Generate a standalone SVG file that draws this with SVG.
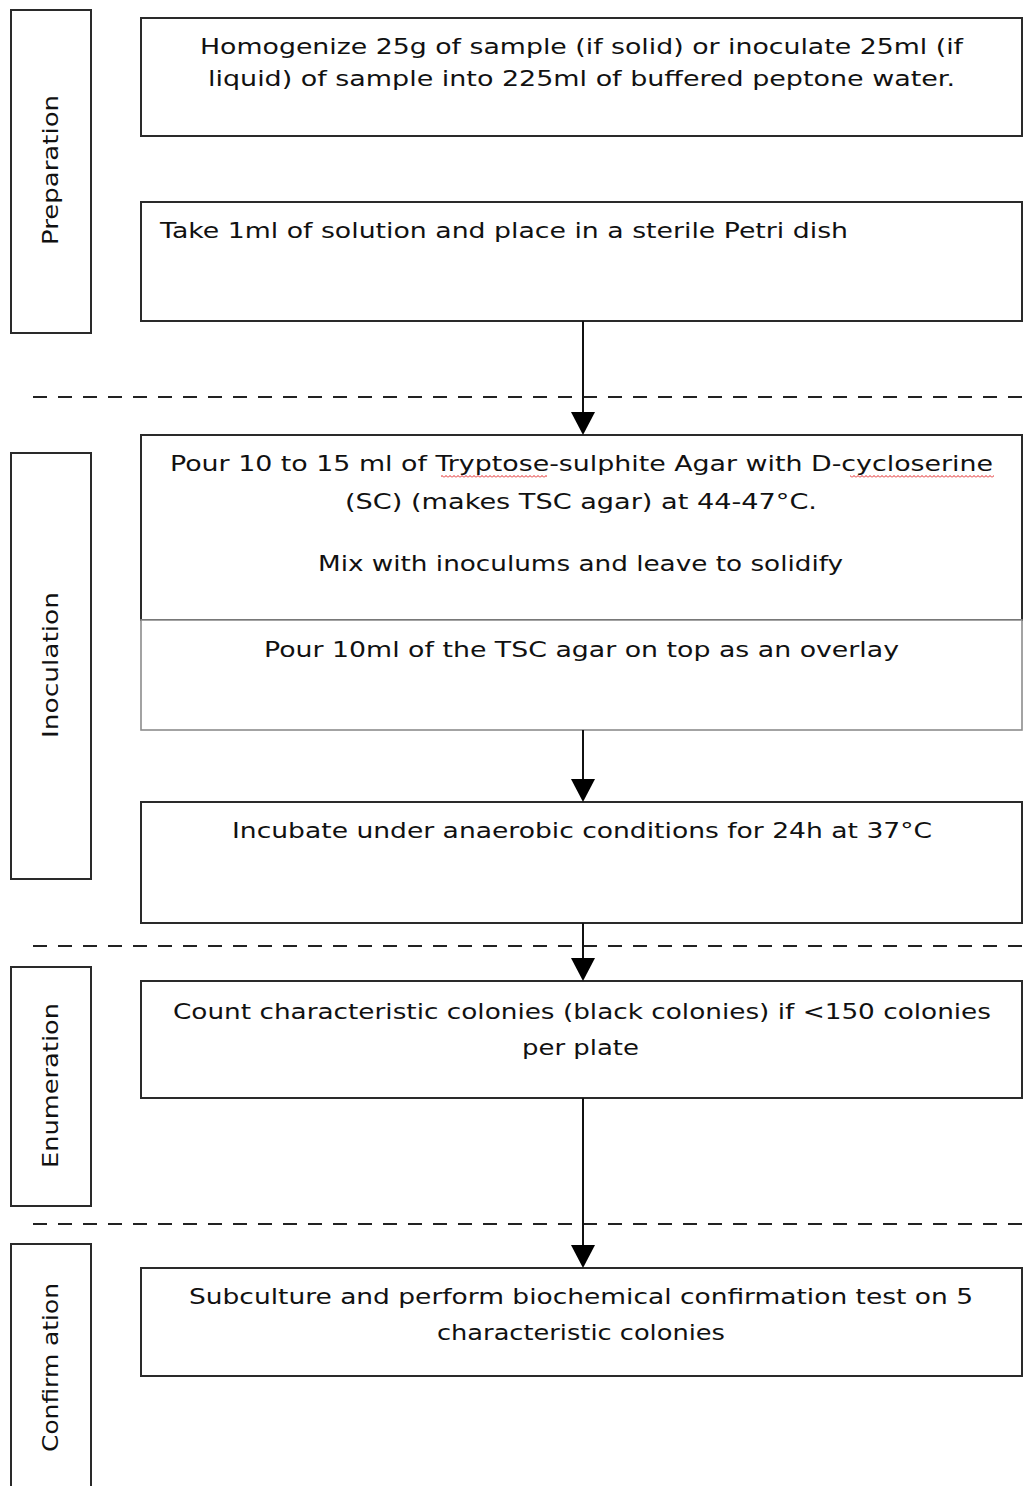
<svg xmlns="http://www.w3.org/2000/svg" width="1024" height="1486" viewBox="0 0 1024 1486">
<style>
.box{fill:#fff;stroke:#2a2a2a;stroke-width:2}
.gbox{fill:#fff;stroke:#8c8c8c;stroke-width:1.6}
.t{font-family:"DejaVu Sans",Verdana,sans-serif;font-size:21px;fill:#111}
.c{text-anchor:middle}
.dash{stroke:#222;stroke-width:2;stroke-dasharray:14 11;fill:none}
.conn{stroke:#111;stroke-width:2;fill:none}
.head{fill:#000}
</style>
<defs>
<pattern id="squiggle" x="0" y="475" width="4" height="3" patternUnits="userSpaceOnUse">
<path d="M0 2.5 L2 0.5 L4 2.5" stroke="#e02020" stroke-width="1" fill="none"/>
</pattern>
</defs>
<rect width="1024" height="1486" fill="#fff"/>
<g id="separators">
<line class="dash" x1="33" y1="397" x2="1024" y2="397"/>
<line class="dash" x1="33" y1="946" x2="1024" y2="946"/>
<line class="dash" x1="33" y1="1224" x2="1024" y2="1224"/>
</g>
<g id="lane-preparation">
<rect class="box" x="11" y="10" width="80" height="323"/>
<text class="t c" transform="translate(58,170) rotate(-90)" textLength="150" lengthAdjust="spacingAndGlyphs">Preparation</text>
</g>
<g id="lane-inoculation">
<rect class="box" x="11" y="453" width="80" height="426"/>
<text class="t c" transform="translate(58,665) rotate(-90)" textLength="146" lengthAdjust="spacingAndGlyphs">Inoculation</text>
</g>
<g id="lane-enumeration">
<rect class="box" x="11" y="967" width="80" height="239"/>
<text class="t c" transform="translate(58,1085.5) rotate(-90)" textLength="165" lengthAdjust="spacingAndGlyphs">Enumeration</text>
</g>
<g id="lane-confirmation">
<rect class="box" x="11" y="1244" width="80" height="260"/>
<text class="t c" transform="translate(58,1367.5) rotate(-90)" textLength="169" lengthAdjust="spacingAndGlyphs">Confirm ation</text>
</g>
<g id="step-homogenize">
<rect class="box" x="141" y="18" width="881" height="118"/>
<text class="t" x="200" y="54" textLength="763" lengthAdjust="spacingAndGlyphs">Homogenize 25g of sample (if solid) or inoculate 25ml (if</text>
<text class="t" x="208" y="86" textLength="747" lengthAdjust="spacingAndGlyphs">liquid) of sample into 225ml of buffered peptone water.</text>
</g>
<g id="step-take">
<rect class="box" x="141" y="202" width="881" height="119"/>
<text class="t" x="160" y="238" textLength="688" lengthAdjust="spacingAndGlyphs">Take 1ml of solution and place in a sterile Petri dish</text>
</g>
<g id="step-pour">
<rect class="box" x="141" y="435" width="881" height="185"/>
<text class="t" x="170" y="471" textLength="823" lengthAdjust="spacingAndGlyphs">Pour 10 to 15 ml of Tryptose-sulphite Agar with D-cycloserine</text>
<rect x="441" y="475" width="106" height="3" fill="url(#squiggle)"/>
<rect x="850" y="475" width="144" height="3" fill="url(#squiggle)"/>
<text class="t" x="345" y="509" textLength="472" lengthAdjust="spacingAndGlyphs">(SC) (makes TSC agar) at 44-47°C.</text>
<text class="t" x="318" y="571" textLength="525" lengthAdjust="spacingAndGlyphs">Mix with inoculums and leave to solidify</text>
</g>
<g id="step-overlay">
<rect class="gbox" x="141" y="620" width="881" height="110"/>
<text class="t" x="264" y="657" textLength="635" lengthAdjust="spacingAndGlyphs">Pour 10ml of the TSC agar on top as an overlay</text>
</g>
<g id="step-incubate">
<rect class="box" x="141" y="802" width="881" height="121"/>
<text class="t" x="232" y="838" textLength="700" lengthAdjust="spacingAndGlyphs">Incubate under anaerobic conditions for 24h at 37°C</text>
</g>
<g id="step-count">
<rect class="box" x="141" y="981" width="881" height="117"/>
<text class="t" x="173" y="1019" textLength="818" lengthAdjust="spacingAndGlyphs">Count characteristic colonies (black colonies) if &lt;150 colonies</text>
<text class="t" x="522" y="1055" textLength="117" lengthAdjust="spacingAndGlyphs">per plate</text>
</g>
<g id="step-subculture">
<rect class="box" x="141" y="1268" width="881" height="108"/>
<text class="t" x="189" y="1304" textLength="784" lengthAdjust="spacingAndGlyphs">Subculture and perform biochemical confirmation test on 5</text>
<text class="t" x="437" y="1340" textLength="288" lengthAdjust="spacingAndGlyphs">characteristic colonies</text>
</g>
<g id="connectors">
<line class="conn" x1="583" y1="321" x2="583" y2="414"/>
<polygon class="head" points="571,412 595,412 583,435"/>
<line class="conn" x1="583" y1="730" x2="583" y2="781"/>
<polygon class="head" points="571,779 595,779 583,802"/>
<line class="conn" x1="583" y1="923" x2="583" y2="960"/>
<polygon class="head" points="571,958 595,958 583,981"/>
<line class="conn" x1="583" y1="1098" x2="583" y2="1247"/>
<polygon class="head" points="571,1245 595,1245 583,1268"/>
</g>
</svg>
